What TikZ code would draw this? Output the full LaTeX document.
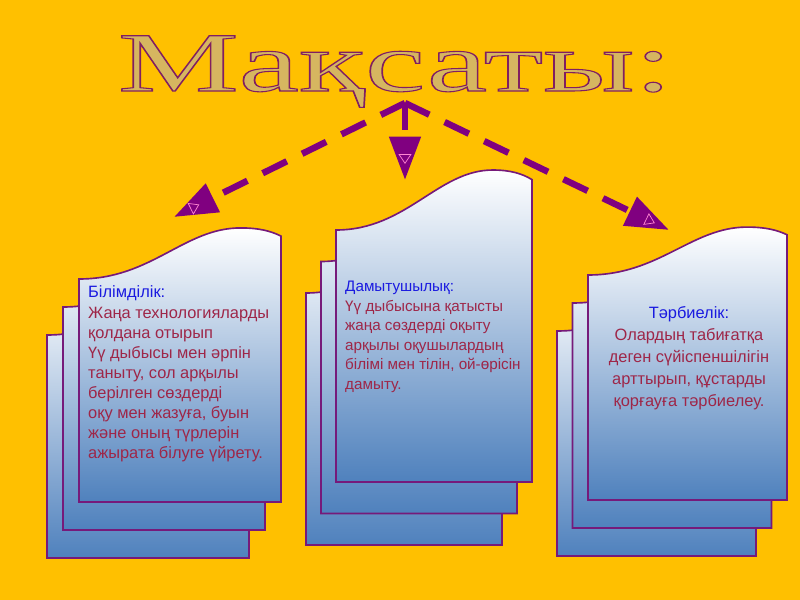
\documentclass[tikz,border=0pt]{standalone}
\usepackage{fontspec}
\usepackage{xcolor}
\setmainfont{Liberation Sans}
\newfontfamily\titlefont{Liberation Serif}
\usetikzlibrary{arrows.meta,shapes.geometric}

\definecolor{bgorange}{RGB}{255,192,0}
\definecolor{edgepurple}{RGB}{118,26,122}
\definecolor{arrowpurple}{RGB}{128,0,128}
\definecolor{pageblue}{RGB}{79,129,189}
\definecolor{headblue}{RGB}{26,26,224}
\definecolor{bodyred}{RGB}{158,38,72}
\definecolor{titletan}{RGB}{214,182,96}

% one sheet: left, top, width, height, rise of the wave
\newcommand{\cardpage}[5]{%
\begin{scope}[shift={(#1,#2)},xscale=#3,yscale=#4]
\draw[pagestyle] (0,0) -- (0,-1) -- (1,-1) -- (1,0.84*#5)
  .. controls (0.95,0.94*#5) and (0.89,#5) .. (0.8,#5)
  .. controls (0.52,#5) and (0.36,0) .. (0,0) -- cycle;
\end{scope}}
% three sheets, front one last
\newcommand{\cardstack}[7]{%
\cardpage{#1-2*#6}{#2-2*#7}{#3}{#4}{#5}
\cardpage{#1-#6}{#2-#7}{#3}{#4}{#5}
\cardpage{#1}{#2}{#3}{#4}{#5}}

\tikzset{
  pagestyle/.style={draw=edgepurple,line width=1.4pt,top color=white,bottom color=pageblue},
  dasharrow/.style={draw=arrowpurple,line width=5.5pt,dash pattern=on 23pt off 14.5pt,
    -{Triangle[length=37pt,width=26pt]}},
  innermark/.style={sloped,solid,isosceles triangle,isosceles triangle stretches,
    draw=pink!70!magenta,line width=0.6pt,inner sep=0pt,minimum width=10pt,minimum height=7.5pt},
  bodytext/.style={inner sep=0pt,text=bodyred,font=\fontsize{14}{17}\selectfont},
  titletext/.style={inner sep=0pt,text=titletan,xscale=1.61,
    font=\titlefont\fontsize{72}{72}\selectfont}
}

\begin{document}
\begin{tikzpicture}[x=0.03cm,y=0.03cm]
\fill[bgorange] (0,0) rectangle (800,-600);

% title
\node[titletext,anchor=base] (title) at (395,-91)
  {\special{pdf:literal direct 2 Tr 0.5 0.12 0.38 RG 0.9 w}Мақсаты:\special{pdf:literal direct 0 Tr}};

% sheets
\cardstack{79}{-279}{202}{223}{0.229}{16}{28}
\cardstack{336}{-230}{196}{252}{0.238}{15}{31.5}
\cardstack{588}{-275}{199}{225}{0.213}{15.5}{28}

% texts
\node[bodytext,anchor=north west,align=left] (txtL) at (88,-285)
  {\textcolor{headblue}{Білімділік:}\\[1.5pt]
   Жаңа технологияларды\\қолдана отырып\\Үү дыбысы мен әрпін\\
   таныту, сол арқылы\\берілген сөздерді\\оқу мен жазуға, буын\\
   және оның түрлерін\\ажырата білуге үйрету.};
\node[bodytext,anchor=north west,align=left,font=\fontsize{13}{16.7}\selectfont] (txtM) at (345,-281)
  {\textcolor{headblue}{Дамытушылық:}\\
   Үү дыбысына қатысты\\жаңа сөздерді оқыту\\арқылы оқушылардың\\
   білімі мен тілін, ой-өрісін\\дамыту.};
\node[bodytext,anchor=north,align=center,font=\fontsize{14}{18.9}\selectfont] (txtR) at (689,-306)
  {\textcolor{headblue}{Тәрбиелік:}\\
   Олардың табиғатқа\\деген сүйіспеншілігін\\арттырып, құстарды\\
   қорғауға тәрбиелеу.};

% arrows
\coordinate (hub) at (405,-103);
\coordinate (tipL) at (174,-217);
\coordinate (tipM) at (405,-180);
\coordinate (tipR) at (669,-230);
\draw[dasharrow] (hub) -- (tipL) node[innermark,pos=0.915] (markL) {};
\draw[dasharrow] (hub) -- (tipM) node[innermark,pos=0.71] (markM) {};
\draw[dasharrow] (hub) -- (tipR) node[innermark,pos=0.925] (markR) {};
\end{tikzpicture}
\end{document}
